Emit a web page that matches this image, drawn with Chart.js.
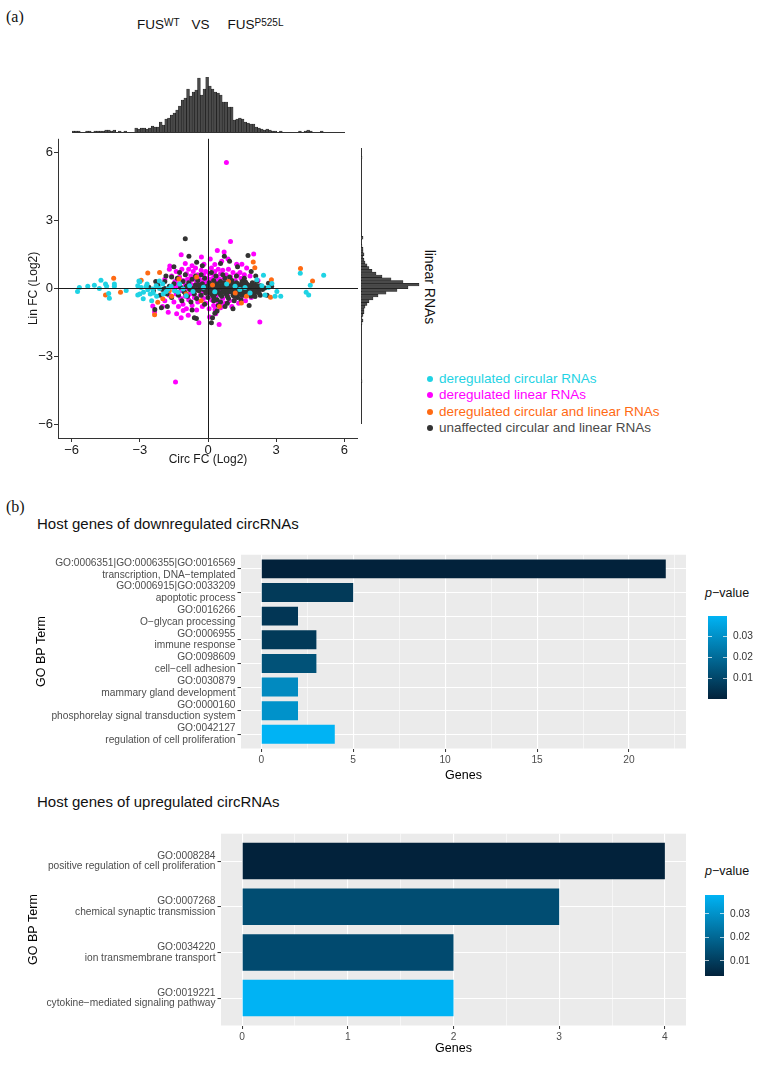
<!DOCTYPE html>
<html>
<head>
<meta charset="utf-8">
<script src="https://cdn.jsdelivr.net/npm/chart.js@4.4.1/dist/chart.umd.min.js"></script>
<style>
body { margin:0; background:#fff; }
#page { position:relative; width:757px; height:1065px; overflow:hidden; font-family:"Liberation Sans", Arial, sans-serif; color:#111; }
canvas { position:absolute; }
.txt { position:absolute; white-space:nowrap; }
.tag { font-family:"Liberation Serif", serif; font-size:16px; line-height:16px; }
.sup { font-size:10px; position:relative; top:-3px; }
#legend { position:absolute; left:427px; top:371px; font-size:13.5px; }
.lg-row { height:16.3px; line-height:16.3px; display:flex; align-items:center; white-space:nowrap; }
.lg-dot { width:6px; height:6px; border-radius:50%; margin-right:6px; }
</style>
</head>
<body>
<div id="page">
  <div class="txt tag" style="left:6px;top:9px">(a)</div>
  <div class="txt" style="left:137px;top:17.6px;font-size:13.5px;line-height:13.5px">FUS<span class="sup">WT</span><span style="margin-left:12px">VS</span><span style="margin-left:18px">FUS</span><span class="sup">P525L</span></div>
  <div class="txt" style="left:430px;top:287px;font-size:14px;line-height:14px;transform:translate(-50%,-50%) rotate(90deg)">linear RNAs</div>
  <div id="legend"></div>
  <div class="txt tag" style="left:6px;top:499px">(b)</div>
  <div class="txt" style="left:37px;top:516.3px;font-size:15px;line-height:15px">Host genes of downregulated circRNAs</div>
  <div class="txt" style="left:705px;top:587.4px;font-size:12.5px;line-height:12.5px"><i>p</i>−value</div>
  <div class="txt" style="left:37px;top:794px;font-size:15px;line-height:15px">Host genes of upregulated circRNAs</div>
  <div class="txt" style="left:705px;top:865.4px;font-size:12.5px;line-height:12.5px"><i>p</i>−value</div>
</div>
<script>
// =======================
// DATA
// =======================
const circFcTicks = [-6, -3, 0, 3, 6];
const linFcTicks = [-6, -3, 0, 3, 6];

const groupLabels = [
    'deregulated circular RNAs',
    'deregulated linear RNAs',
    'deregulated circular and linear RNAs',
    'unaffected circular and linear RNAs'
];

// [circ FC, lin FC] (log2)
const circOnlyPoints = [
    [-5.74,-0.14],[-5.66,0.04],[-5.29,0.09],[-5.00,0.14],[-4.78,0.00],[-4.71,0.36],[-4.51,0.19],[-4.46,0.09],
    [-4.37,-0.23],[-4.34,-0.43],[-4.12,0.19],[-4.12,0.09],[-3.60,-0.09],[-3.04,0.33],[-3.09,0.12],[-3.09,-0.29],
    [-2.94,0.04],[-2.84,-0.17],[-2.72,0.09],[-2.65,-0.06],[-2.54,-0.25],[-2.43,-0.03],[-2.28,0.12],[-2.13,0.00],
    [-1.99,0.19],[-1.84,-0.14],[-1.76,-0.03],[-1.62,0.09],[-1.47,-0.10],[-1.32,-0.17],[-1.10,-0.03],[-0.96,-0.32],
    [-0.81,0.12],[-0.66,-0.14],[-1.25,0.19],[-3.00,0.29],[-2.85,-0.46],[-2.68,0.19],[-2.41,-0.20],[-2.14,0.33],
    [-1.97,-0.25],[-2.48,-0.54],[-3.00,-0.25],[-2.26,-0.35],[0.82,0.19],[1.19,0.09],[1.63,0.04],[1.85,-0.20],
    [2.15,0.38],[2.44,0.58],[2.66,0.04],[2.81,0.22],[2.51,-0.29],[3.03,-0.14],[3.20,-0.35],[2.95,-0.35],
    [4.06,0.67],[4.50,0.14],[4.32,-0.17],[4.43,-0.29],[5.09,0.58],[2.37,0.12],[0.30,-0.15],[-0.20,0.05],[1.40,-0.05]
];
const linOnlyPoints = [
    [0.81,5.55],[-1.43,-4.13],[0.99,2.07],[-1.18,1.49],[-0.29,1.39],[0.41,1.67],[0.71,1.61],[0.88,1.30],[2.01,1.52],
    [-2.43,-0.78],[-2.35,-1.04],[-1.18,-1.29],[-0.40,-1.51],[0.07,-1.26],[0.49,-1.59],[2.28,-1.48],[0.34,-1.12],
    [-1.60,0.55],[-1.45,0.30],[-1.40,0.75],[-1.30,0.20],[-1.25,0.50],[-1.15,0.85],[-1.10,0.35],[-1.00,0.15],
    [-0.95,0.65],[-0.90,0.40],[-0.85,0.85],[-0.80,0.25],[-0.75,0.55],[-0.70,0.15],[-0.65,0.75],[-0.60,0.40],
    [-0.55,0.90],[-0.50,0.25],[-0.45,0.60],[-0.40,0.45],[-0.35,0.20],[-0.30,0.80],[-0.25,0.35],[-0.20,0.60],
    [-0.15,0.25],[-0.10,0.75],[-0.05,0.45],[0.00,0.30],[0.05,0.65],[0.10,0.40],[0.15,0.90],[0.20,0.25],
    [0.25,0.55],[0.30,0.75],[0.35,0.30],[0.40,0.50],[0.45,0.85],[0.50,0.40],[0.55,0.65],[0.60,0.25],
    [0.65,0.80],[0.70,0.45],[0.80,0.60],[0.85,0.30],[0.90,0.85],[1.00,0.50],[1.10,0.70],[1.20,0.35],
    [1.30,0.60],[1.45,0.45],[1.60,0.60],[1.85,0.55],[1.41,0.70],[1.26,1.06],[1.49,1.06],[-0.18,1.06],
    [-0.70,1.00],[0.30,1.05],[-1.55,0.05],[-1.20,-0.10],[-0.90,0.00],[-0.70,-0.15],[-0.50,0.10],[-0.30,-0.05],
    [-0.10,0.15],[0.10,0.00],[0.30,0.10],[0.50,-0.10],[0.70,0.05],[0.90,0.15],[1.10,-0.15],[-1.35,0.10],
    [-0.20,-0.15],[-1.70,-0.30],[-1.50,-0.60],[-1.40,-0.25],[-1.30,-0.80],[-1.20,-0.45],[-1.10,-0.70],
    [-1.00,-0.35],[-0.95,-0.90],[-0.85,-0.50],[-0.80,-0.25],[-0.70,-0.75],[-0.60,-0.40],[-0.50,-0.95],
    [-0.45,-0.60],[-0.35,-0.30],[-0.25,-0.80],[-0.20,-0.45],[-0.10,-0.65],[0.00,-0.30],[0.05,-0.90],
    [0.15,-0.50],[0.25,-0.75],[0.35,-0.35],[0.45,-0.60],[0.55,-0.85],[0.65,-0.45],[0.75,-0.65],[0.85,-0.30],
    [0.95,-0.55],[1.05,-0.80],[1.20,-0.45],[1.35,-0.65],[1.50,-0.35],[1.65,-0.55],[0.24,-0.54],[0.53,-0.61],
    [0.65,-0.78],[0.31,-0.93],[-1.90,-0.55],[-2.00,-0.80],[-1.75,-1.05],[1.90,-0.40],[-1.90,0.40],[-1.70,0.85],
    [-1.68,0.99],[-1.38,-1.12],[-1.09,-0.97],[-0.87,-1.19],[2.20,0.35],[1.70,0.90],[0.60,1.20],[-1.00,1.10],[0.10,1.30]
];
const bothPoints = [
    [-4.15,0.45],[-4.51,-0.29],[-3.85,-0.17],[-2.65,0.68],[-2.94,0.36],[-2.13,0.70],[-2.21,-0.61],[-2.35,-1.16],
    [-1.99,-0.46],[-1.28,0.41],[-0.96,-0.25],[-0.50,0.50],[-1.60,-0.35],[0.20,0.15],[-0.30,-0.55],[0.90,0.30],
    [1.20,-0.20],[1.47,-0.64],[1.69,-0.35],[1.99,1.16],[2.06,0.91],[2.79,0.38],[2.75,-0.39],[4.07,0.88],
    [4.60,0.33],[-1.70,-0.10],[0.50,-0.80]
];
const unaffectedPoints = [
    [-2.60,0.05],[-2.40,-0.10],[-2.20,0.15],[-2.00,-0.05],[-1.90,0.30],[-1.80,-0.25],[-1.70,0.10],[-1.60,-0.40],
    [-1.50,0.20],[-1.45,-0.10],[-1.35,0.45],[-1.30,-0.30],[-1.20,0.05],[-1.15,-0.55],[-1.10,0.30],[-1.05,-0.15],
    [-1.00,0.60],[-0.95,0.10],[-0.90,-0.35],[-0.85,0.25],[-0.80,-0.05],[-0.75,-0.60],[-0.70,0.40],[-0.65,0.00],
    [-0.60,-0.25],[-0.55,0.15],[-0.50,-0.45],[-0.45,0.35],[-0.40,-0.10],[-0.35,0.05],[-0.30,-0.30],[-0.25,0.20],
    [-0.20,-0.05],[-0.15,0.45],[-0.10,-0.20],[-0.05,0.10],[0.00,-0.40],[0.05,0.25],[0.10,-0.10],[0.15,0.05],
    [0.20,-0.30],[0.25,0.35],[0.30,-0.05],[0.35,0.15],[0.40,-0.50],[0.45,0.00],[0.50,-0.20],[0.55,0.30],
    [0.60,-0.35],[0.65,0.10],[0.70,-0.10],[0.75,0.45],[0.80,-0.25],[0.85,0.05],[0.90,-0.45],[0.95,0.20],
    [1.00,-0.05],[1.05,0.35],[1.10,-0.30],[1.15,0.10],[1.20,-0.15],[1.25,0.25],[1.30,-0.40],[1.35,0.00],
    [1.40,0.15],[1.45,-0.20],[1.50,0.30],[1.55,-0.05],[1.60,0.10],[1.65,-0.30],[1.70,0.20],[1.75,-0.10],
    [1.80,0.05],[1.85,-0.25],[1.90,0.15],[1.95,-0.05],[2.00,0.10],[2.05,-0.20],[2.10,0.05],[2.20,-0.10],
    [2.30,0.12],[2.40,-0.05],[2.50,0.02],[-0.20,0.00],[0.00,0.05],[0.20,0.10],[0.40,0.20],[0.60,0.00],
    [0.80,0.10],[1.00,0.15],[1.20,0.05],[1.40,-0.10],[1.60,-0.15],[1.80,-0.05],[0.10,-0.20],[0.30,-0.25],
    [0.50,0.10],[0.70,0.25],[0.90,-0.15],[1.10,0.00],[1.30,0.20],[1.50,-0.30],[1.70,0.05],[-0.40,0.15],
    [-0.60,-0.10],[-0.80,0.10],[-1.00,-0.20],[0.25,-0.55],[0.55,-0.60],[0.85,-0.65],[1.15,-0.55],[1.45,-0.50],
    [0.35,0.55],[0.65,0.60],[0.95,0.50],[1.25,0.55],[-0.30,0.60],[-0.55,0.55],[0.15,0.70],[0.45,-0.75],
    [0.75,-0.80],[-0.15,-0.70],[1.60,0.45],[1.90,-0.35],[2.15,0.30],[2.30,-0.30],[-1.25,0.70],[-1.60,0.50],
    [-1.90,0.00],[-2.10,-0.30],[-2.30,0.30],[-1.00,2.19],[-0.84,1.42],[0.72,1.42],[1.76,1.45],[-1.79,-0.80],
    [-0.51,-1.33],[0.15,-1.51],[1.81,-0.75],[0.40,-1.00],[-0.70,-0.95],[1.10,-0.90],[-1.50,0.95],[0.55,1.10],
    [1.30,0.95],[-0.25,1.00],[0.95,1.20],[-0.60,-1.30],[0.20,-1.30],[1.90,0.75],[2.60,-0.30],[2.80,0.10],
    [-2.05,-0.85],[-1.85,0.55],[2.10,0.55],[-0.50,1.15],[-2.34,-0.93],[2.66,0.23],[0.30,-1.10],[2.07,-0.36],
    [0.00,0.02],[0.10,0.08],[0.20,-0.05],[0.30,0.05],[0.40,-0.12],[0.50,0.02],[0.60,0.12],[0.70,-0.02],
    [0.80,-0.12],[0.90,0.05],[1.00,-0.15],[1.10,0.12],[1.20,-0.05],[1.30,0.08],[1.40,-0.02],[1.50,0.10],
    [1.60,0.02],[1.70,-0.12],[1.80,0.12],[1.90,-0.15],[2.00,0.00],[2.10,-0.10],[2.20,0.10],[2.30,0.00],
    [-0.10,-0.05],[-0.30,0.10],[-0.50,-0.05],[0.15,0.18],[0.45,0.12],[0.75,0.18],[1.05,0.22],[1.35,-0.25],
    [1.65,0.28],[0.25,-0.38],[0.55,-0.28],[0.85,-0.35],[1.15,-0.35],[1.55,0.20],[1.95,0.25],[2.25,-0.20],
    [0.05,-0.12],[0.35,-0.15],[0.65,-0.18],[0.95,0.02],[1.25,-0.10],[1.45,0.05],[1.75,0.00],[2.05,0.15]
];
const groupPoints = [circOnlyPoints, linOnlyPoints, bothPoints, unaffectedPoints];

// marginal histograms: 100 bins of 0.12 from -6 to 6
const histStart = -6, histBinWidth = 0.12;
const circHistCounts = [
    1,1,1,0,0,1,1,0,1,1, 1,1,2,2,1,2,0,1,0,1, 0,0,0,4,3,4,4,3,4,6, 5,5,10,7,13,14,17,19,22,26,
    32,34,43,36,40,42,54,37,43,55, 46,43,40,39,37,30,30,25,25,12, 13,14,13,10,9,8,8,5,4,3,
    2,3,2,1,1,0,1,0,0,0, 0,0,0,1,0,1,2,1,0,0, 0,1,0,0,0,0,0,0,0,0
];
// listed from the top (+6) down to -6
const linHistCounts = [
    0,0,0,1,0,0,0,0,0,0, 0,0,0,0,0,0,0,0,0,0, 0,0,0,0,0,0,0,0,0,0, 0,0,2,0,0,1,2,2,3,2,
    3,4,6,8,11,15,21,30,42,58, 47,36,25,17,12,8,6,4,3,3, 2,1,2,1,0,0,0,0,0,0,
    0,0,0,0,0,0,0,0,0,0, 0,0,0,0,1,0,0,0,0,0, 0,0,0,0,0,0,0,0,0,0
];

// GO enrichment, downregulated
const downTermIds = ['GO:0006351|GO:0006355|GO:0016569', 'GO:0006915|GO:0033209', 'GO:0016266', 'GO:0006955',
    'GO:0098609', 'GO:0030879', 'GO:0000160', 'GO:0042127'];
const downTermNames = ['transcription, DNA−templated', 'apoptotic process', 'O−glycan processing', 'immune response',
    'cell−cell adhesion', 'mammary gland development', 'phosphorelay signal transduction system', 'regulation of cell proliferation'];
const downGenes = [22, 5, 2, 3, 3, 2, 2, 4];
const downPvals = [0.0002, 0.0067, 0.0057, 0.0067, 0.0133, 0.0286, 0.0308, 0.0398];
const downGeneTicks = [0, 5, 10, 15, 20];
const downGeneMinor = [2.5, 7.5, 12.5, 17.5, 22.5];

// GO enrichment, upregulated
const upTermIds = ['GO:0008284', 'GO:0007268', 'GO:0034220', 'GO:0019221'];
const upTermNames = ['positive regulation of cell proliferation', 'chemical synaptic transmission',
    'ion transmembrane transport', 'cytokine−mediated signaling pathway'];
const upGenes = [4, 3, 2, 2];
const upPvals = [0.0036, 0.0139, 0.0132, 0.0380];
const upGeneTicks = [0, 1, 2, 3, 4];
const upGeneMinor = [0.5, 1.5, 2.5, 3.5];

const pTicks = [0.01, 0.02, 0.03];

// =======================
// STYLE
// =======================
const groupColors = ['#1fd3e4', '#ff00ff', '#ff6a13', '#333333'];
const groupOrder = [0, 3, 1, 2];   // lower = drawn on top
const fillLow = '#02223b', fillHigh = '#00b3f4';
Chart.defaults.font.family = '"Liberation Sans", Arial, sans-serif';
Chart.defaults.animation = false;
Chart.defaults.events = [];
Chart.defaults.layout.autoPadding = false;
Chart.defaults.plugins.legend.display = false;
Chart.defaults.plugins.tooltip.enabled = false;

const page = document.getElementById('page');
function addCanvas(left, top, width, height) {
    const c = document.createElement('canvas');
    c.width = width; c.height = height;
    c.style.left = left + 'px'; c.style.top = top + 'px';
    c.style.width = width + 'px'; c.style.height = height + 'px';
    page.appendChild(c);
    return c;
}
const minus = v => String(v).replace('-', '−');

function rgb(h) { return [1, 3, 5].map(i => parseInt(h.slice(i, i + 2), 16)); }
function pColor(p, pMin, pMax) {
    const t = (p - pMin) / (pMax - pMin);
    const a = rgb(fillLow), b = rgb(fillHigh);
    return 'rgb(' + a.map((v, i) => Math.round(v + (b[i] - v) * t)).join(',') + ')';
}

// =======================
// LEGEND (a)
// =======================
const legendBox = document.getElementById('legend');
groupLabels.forEach((lab, i) => {
    const row = document.createElement('div');
    row.className = 'lg-row';
    row.innerHTML = '<span class="lg-dot" style="background:' + groupColors[i] + '"></span>' +
        '<span style="color:' + (i === 3 ? '#4a4a4a' : groupColors[i]) + '">' + lab + '</span>';
    legendBox.appendChild(row);
});

// =======================
// SCATTER
// =======================
// axis lines = grid line at the scale minimum, zero lines = grid line at 0
const axisGrid = (s) => ({
    z: 1,
    color: c => !c.tick ? 'rgba(0,0,0,0)' : (c.tick.value === 0 ? '#1a1a1a' : (c.tick.value === s ? '#333' : 'rgba(0,0,0,0)')),
    tickColor: c => (c.tick && c.tick.value === s) ? 'rgba(0,0,0,0)' : '#333',
    tickLength: 4, tickWidth: 1, lineWidth: 1
});
const fcMin = -6.6, fcMax = 6.6;

new Chart(addCanvas(22, 130, 343, 339), {
    type: 'scatter',
    data: {
        datasets: groupPoints.map((pts, i) => ({
            label: groupLabels[i],
            data: pts.map(p => ({ x: p[0], y: p[1] })),
            backgroundColor: groupColors[i],
            order: groupOrder[i],
            pointRadius: 2.5,
            borderWidth: 0
        }))
    },
    options: {
        responsive: false,
        layout: { padding: { top: 5, right: 7 } },
        scales: {
            x: {
                type: 'linear', min: fcMin, max: fcMax,
                afterBuildTicks: s => { s.ticks = [fcMin].concat(circFcTicks).map(v => ({ value: v })); },
                afterFit: s => { s.height = 31; },
                grid: axisGrid(fcMin),
                border: { display: false },
                ticks: { autoSkip: false, maxRotation: 0, color: '#1a1a1a', font: { size: 13 }, padding: 1,
                         callback: v => v === fcMin ? '' : minus(v) },
                title: { display: true, text: 'Circ FC (Log2)', color: '#1a1a1a', font: { size: 12 }, padding: { top: 0, bottom: 2 } }
            },
            y: {
                type: 'linear', min: fcMin, max: fcMax,
                afterBuildTicks: s => { s.ticks = [fcMin].concat(linFcTicks).map(v => ({ value: v })); },
                afterFit: s => { s.width = 36; },
                grid: axisGrid(fcMin),
                border: { display: false },
                ticks: { autoSkip: false, color: '#1a1a1a', font: { size: 13 }, padding: 1,
                         callback: v => v === fcMin ? '' : minus(v) },
                title: { display: true, text: 'Lin FC (Log2)', color: '#1a1a1a', font: { size: 12 }, padding: { top: 4, bottom: 0 } }
            }
        }
    }
});

// =======================
// MARGINAL HISTOGRAMS
// =======================
const circBinLabels = circHistCounts.map((_, i) => (histStart + histBinWidth * (i + 0.5)).toFixed(2));
const linBinLabels = linHistCounts.map((_, i) => (-histStart - histBinWidth * (i + 0.5)).toFixed(2));
const histBarStyle = { backgroundColor: '#4a4a4a', borderColor: '#111', borderWidth: 0.5, barPercentage: 1, categoryPercentage: 1 };

new Chart(addCanvas(72, 77, 273, 56), {
    type: 'bar',
    data: { labels: circBinLabels, datasets: [Object.assign({ data: circHistCounts }, histBarStyle)] },
    options: {
        responsive: false,
        layout: { padding: { bottom: 1 } },
        scales: {
            x: { afterFit: s => { s.height = 0; }, grid: { display: false }, ticks: { display: false }, border: { color: '#333' } },
            y: { display: false, min: 0, max: 55 }
        }
    }
});

new Chart(addCanvas(360, 148, 60, 276), {
    type: 'bar',
    data: { labels: linBinLabels, datasets: [Object.assign({ data: linHistCounts }, histBarStyle)] },
    options: {
        responsive: false,
        indexAxis: 'y',
        layout: { padding: { left: 1 } },
        scales: {
            y: { afterFit: s => { s.width = 0; }, grid: { display: false }, ticks: { display: false }, border: { color: '#333' } },
            x: { display: false, min: 0, max: 59 }
        }
    }
});

// =======================
// GO BAR CHARTS
// =======================
const panelBg = {
    id: 'panelBg',
    beforeDraw(chart) {
        const a = chart.chartArea, ctx = chart.ctx;
        ctx.save();
        ctx.fillStyle = '#ebebeb';
        ctx.fillRect(a.left, a.top, a.right - a.left, a.bottom - a.top);
        ctx.restore();
    }
};

function goChart(canvas, ids, names, genes, pvals, major, minor, yWidth, xHeight, lineH) {
    const pMin = Math.min(...pvals), pMax = Math.max(...pvals);
    const gMax = Math.max(...genes);
    const xTicks = major.concat(minor).sort((a, b) => a - b);
    new Chart(canvas, {
        type: 'bar',
        data: {
            datasets: [{
                data: genes.map((g, i) => ({ x: g, y: i + 1 })),
                backgroundColor: pvals.map(p => pColor(p, pMin, pMax)),
                borderWidth: 0,
                barPercentage: 0.8,
                categoryPercentage: 1
            }]
        },
        plugins: [panelBg],
        options: {
            responsive: false,
            indexAxis: 'y',
            layout: { padding: { top: 4, right: 6 } },
            scales: {
                x: {
                    type: 'linear', min: -0.05 * gMax, max: 1.05 * gMax,
                    afterBuildTicks: s => { s.ticks = xTicks.map(v => ({ value: v })); },
                    afterFit: s => { s.height = xHeight; },
                    grid: { color: '#fff', lineWidth: c => major.includes(c.tick.value) ? 1.1 : 0.55,
                            tickColor: c => major.includes(c.tick.value) ? '#333' : 'rgba(0,0,0,0)',
                            tickLength: 3.5, tickWidth: 1 },
                    border: { display: false },
                    ticks: { autoSkip: false, maxRotation: 0, color: '#4d4d4d', font: { size: 10.2 }, padding: 2,
                             callback: v => major.includes(v) ? String(v) : '' },
                    title: { display: true, text: 'Genes', color: '#000', font: { size: 12.5 }, padding: { top: 0, bottom: 2 } }
                },
                y: {
                    type: 'linear', reverse: true, offset: false, min: 0.4, max: ids.length + 0.6,
                    afterBuildTicks: s => { s.ticks = ids.map((_, i) => ({ value: i + 1 })); },
                    afterFit: s => { s.width = yWidth; },
                    grid: { offset: false, color: '#fff', lineWidth: 1.1, tickColor: '#333', tickLength: 3.5, tickWidth: 1 },
                    border: { display: false },
                    ticks: { autoSkip: false, color: '#4d4d4d', font: { size: 10.2, lineHeight: lineH }, padding: 2,
                             callback: v => [ids[v - 1], names[v - 1]] },
                    title: { display: true, text: 'GO BP Term', color: '#000', font: { size: 12.5 }, padding: { top: 4, bottom: 0 } }
                }
            }
        }
    });
}

function colorbar(canvas, pvals) {
    const pMin = Math.min(...pvals), pMax = Math.max(...pvals);
    new Chart(canvas, {
        type: 'bar',
        data: {
            labels: [''],
            datasets: [{
                data: [[pMin, pMax]],
                backgroundColor: c => {
                    const a = c.chart.chartArea;
                    if (!a) return fillLow;
                    const g = c.chart.ctx.createLinearGradient(0, a.bottom, 0, a.top);
                    g.addColorStop(0, fillLow);
                    g.addColorStop(1, fillHigh);
                    return g;
                },
                borderWidth: 0, barPercentage: 1, categoryPercentage: 1
            }]
        },
        options: {
            responsive: false,
            layout: { padding: { top: 4, bottom: 4 } },
            scales: {
                x: { display: false },
                y: {
                    position: 'right', min: pMin, max: pMax,
                    afterBuildTicks: s => { s.ticks = pTicks.map(v => ({ value: v })); },
                    afterFit: s => { s.width = 32; },
                    grid: { z: 1, drawTicks: false, color: 'rgba(255,255,255,0.7)', lineWidth: 1 },
                    border: { display: false, dash: [4, 11] },
                    ticks: { color: '#333', font: { size: 10.2 }, padding: 6, callback: v => v.toFixed(2) }
                }
            }
        }
    });
}

goChart(addCanvas(30, 541, 662, 244), downTermIds, downTermNames, downGenes, downPvals,
    downGeneTicks, downGeneMinor, 211, 36.5, 1.15);
colorbar(addCanvas(708, 604, 51, 107), downPvals);

goChart(addCanvas(22, 821, 670, 237), upTermIds, upTermNames, upGenes, upPvals,
    upGeneTicks, upGeneMinor, 199, 32.5, 1.05);
colorbar(addCanvas(705, 883, 51, 105), upPvals);
</script>
</body>
</html>
